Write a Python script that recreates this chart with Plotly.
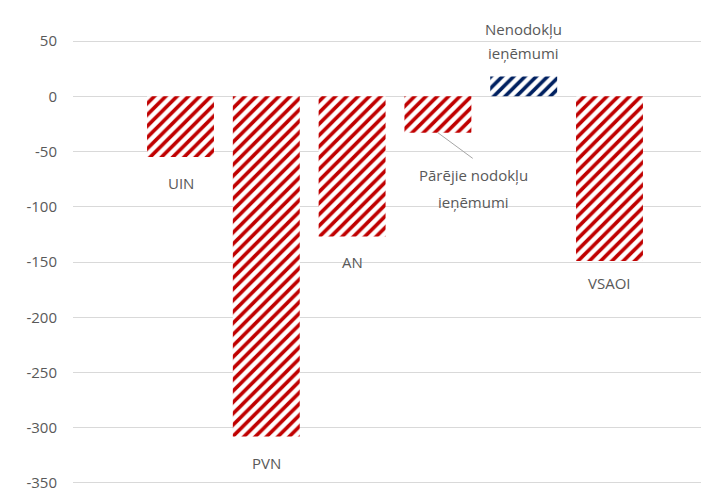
import plotly.graph_objects as go

# revenue change by source (milj. EUR)
categories = ['UIN', 'PVN', 'AN', 'Pārējie nodokļu ieņēmumi', 'Nenodokļu ieņēmumi', 'VSAOI']
values = [-55, -308, -127, -33, 18, -149]
colors = ['#C00000', '#C00000', '#C00000', '#C00000', '#002060', '#C00000']
tick_vals = [50, 0, -50, -100, -150, -200, -250, -300, -350]
tick_text = [str(v) for v in tick_vals]  # plain hyphen, like excel

font_family = 'Open Sans'
grey = '#595959'

fig = go.Figure()
fig.add_trace(go.Bar(
  x=categories, y=values, width=0.78,
  marker=dict(color='white', line=dict(width=0),
              pattern=dict(shape='/', fgcolor=colors, bgcolor='white', fgopacity=1,
                           size=8, solidity=0.45)),
  showlegend=False, hoverinfo='x+y'))

# data labels, placed like the excel ones
labels = [
  ('UIN', 0, -78.5),
  ('PVN', 1, -332),
  ('AN', 2, -150),
  ('Pārējie nodokļu', 3.42, -71.3),
  ('ieņēmumi', 3.42, -95.4),
  ('Nenodokļu', 4.0, 61),
  ('ieņēmumi', 4.0, 39),
  ('VSAOI', 5, -169),
]
for text, x, y in labels:
  fig.add_annotation(x=x, y=y, text=text, showarrow=False,
                     font=dict(family=font_family, size=15, color=grey))

# leader line for the small bar
fig.add_shape(type='line', x0=3.0, y0=values[3], x1=3.406, y1=-56.2,
              line=dict(color='#A6A6A6', width=1))

fig.update_xaxes(showticklabels=False, showgrid=False, zeroline=False, showline=False,
                 range=[-1.253, 6.253])
fig.update_yaxes(range=[-363.6, 79.9], tickvals=tick_vals, ticktext=tick_text,
                 showgrid=True, gridcolor='#D9D9D9',
                 gridwidth=1, zeroline=True, zerolinecolor='#D9D9D9', zerolinewidth=1,
                 showline=False, ticklabelstandoff=15,
                 tickfont=dict(family=font_family, size=15, color=grey))
fig.update_layout(width=709, height=490, autosize=False, plot_bgcolor='white', paper_bgcolor='white',
                  margin=dict(l=65, r=0, t=0, b=0), bargap=0.22)

fig.write_html('out.html')
